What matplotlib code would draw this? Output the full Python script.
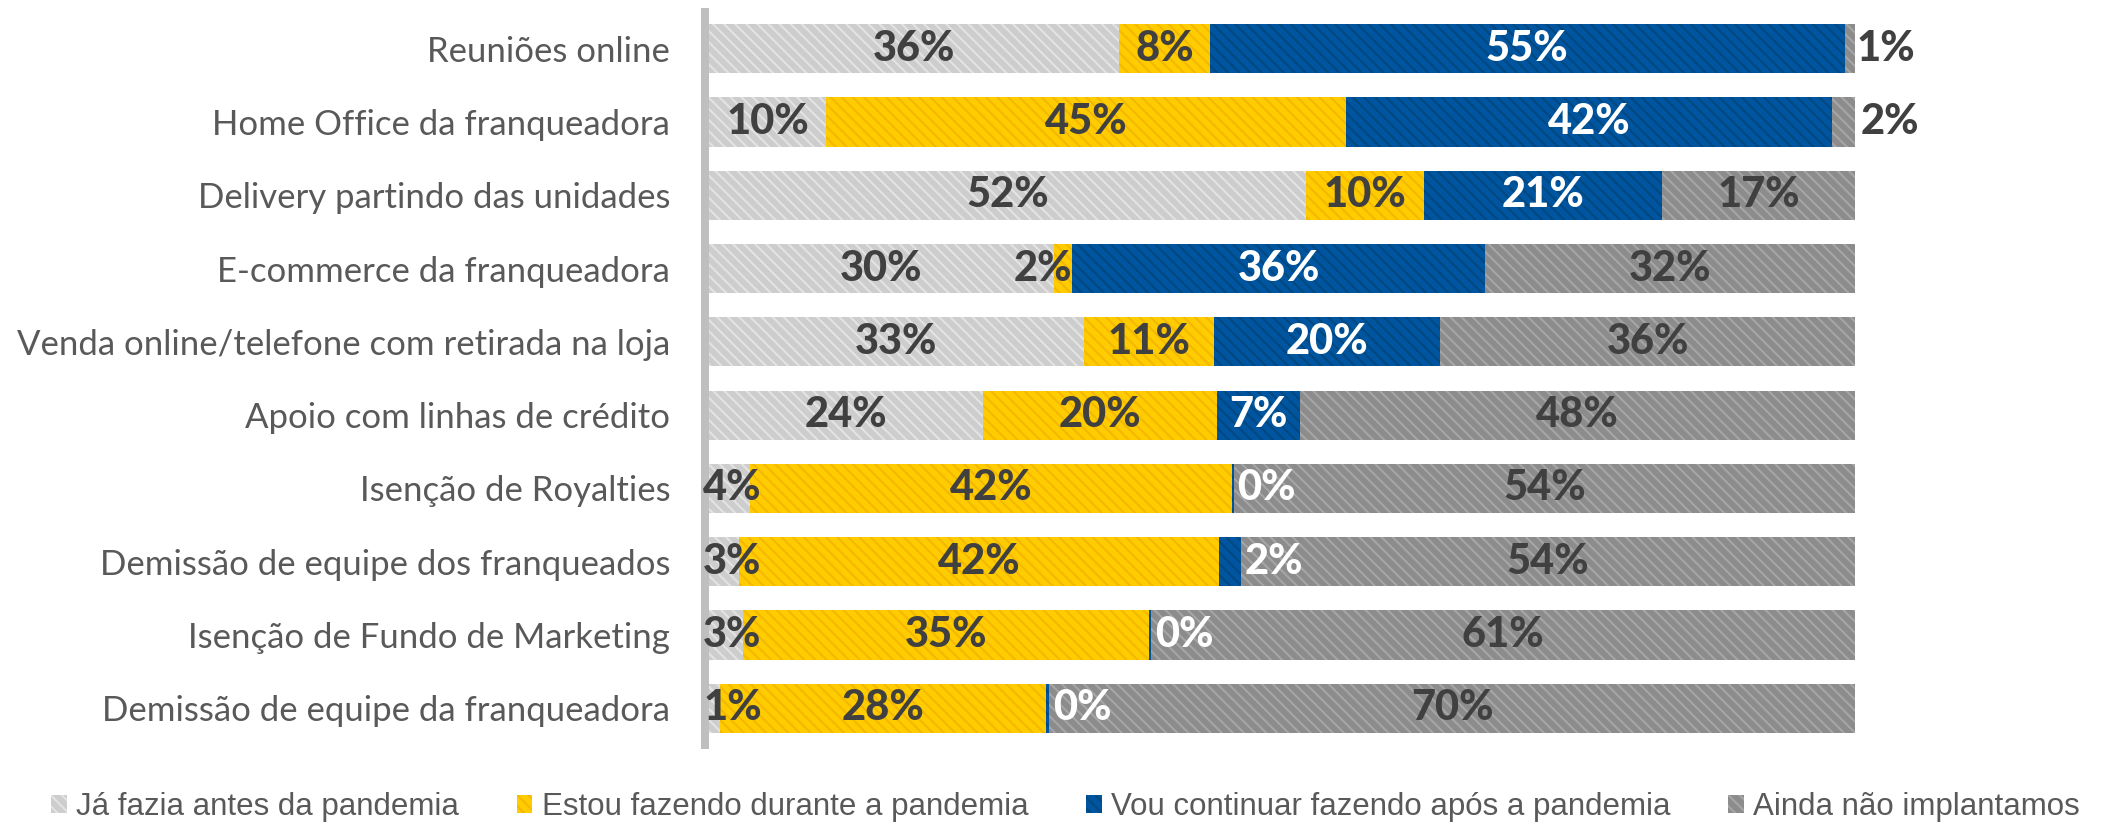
import matplotlib
matplotlib.use("Agg")
import matplotlib.pyplot as plt

# Categories top to bottom, values in percent (unrounded estimates)
categories = [
    "Reuniões online",
    "Home Office da franqueadora",
    "Delivery partindo das unidades",
    "E-commerce da franqueadora",
    "Venda online/telefone com retirada na loja",
    "Apoio com linhas de crédito",
    "Isenção de Royalties",
    "Demissão de equipe dos franqueados",
    "Isenção de Fundo de Marketing",
    "Demissão de equipe da franqueadora",
]
series_names = [
    "Já fazia antes da pandemia",
    "Estou fazendo durante a pandemia",
    "Vou continuar fazendo após a pandemia",
    "Ainda não implantamos",
]
ja_fazia = [35.8, 10.2, 52.1, 30.1, 32.7, 23.9, 3.6, 2.6, 3.0, 1.0]
fazendo = [7.9, 45.4, 10.3, 1.6, 11.4, 20.4, 42.0, 41.9, 35.4, 28.4]
continuar = [55.4, 42.4, 20.8, 36.0, 19.7, 7.3, 0.2, 1.9, 0.2, 0.3]
ainda_nao = [0.9, 2.0, 16.8, 32.3, 36.2, 48.4, 54.2, 53.6, 61.4, 70.3]

series = [ja_fazia, fazendo, continuar, ainda_nao]
face_colors = ["#cdcdcd", "#ffcc00", "#0055a0", "#8c8c8c"]
hatch_colors = ["#e3e3e3", "#f4b800", "#00487f", "#a6a6a6"]
label_colors = ["#404040", "#404040", "white", "#404040"]

plt.rcParams["hatch.linewidth"] = 1.5

fig = plt.figure(figsize=(21.1, 8.22), dpi=100)
ax = fig.add_axes([709 / 2110, 0.0937, 1146 / 2110, 0.8917])

y = list(range(len(categories)))
left = [0.0] * len(categories)
bars = []
for vals, fc, hc in zip(series, face_colors, hatch_colors):
    b = ax.barh(y, vals, left=left, height=0.67, color=fc, edgecolor=hc,
                hatch="\\\\\\", linewidth=0)
    bars.append(b)
    left = [l + v for l, v in zip(left, vals)]

# value labels
lab_font = dict(family=["Lato", "DejaVu Sans"], fontweight="black", fontsize=30)
start = [0.0] * len(categories)
for s, vals in enumerate(series):
    for i, v in enumerate(vals):
        txt = f"{round(v):.0f}%"
        col = label_colors[s]
        if v >= 5:
            x, ha = start[i] + v / 2, "center"
        elif s == 0:
            x, ha = -0.5, "left"
        elif s == 1:
            x, ha = start[i] + v, "right"
        elif s == 2:
            x, ha = start[i] + v + 0.3, "left"
        else:
            x, ha = start[i] + v + 0.1 + 0.4 * i, "left"
            col = "#404040"
        ax.text(x, i, txt, ha=ha, va="center", color=col, **lab_font)
        start[i] += v

ax.set_xlim(0, 100)
ax.set_ylim(len(categories) - 0.5, -0.5)
ax.set_yticks(y, categories)
ax.tick_params(axis="y", length=0, pad=25, labelsize=25,
               labelcolor="#595959", labelfontfamily="Lato")
ax.xaxis.set_visible(False)
for side in ["top", "right", "bottom"]:
    ax.spines[side].set_visible(False)
ax.spines["left"].set_position(("outward", 2.88))
ax.spines["left"].set_linewidth(5.76)
ax.spines["left"].set_color("#bfbfbf")

fig.legend([b[0] for b in bars], series_names, ncol=4, loc="center",
           bbox_to_anchor=(0.505, 0.018), frameon=False,
           prop=dict(family="Liberation Sans", size=22.5),
           labelcolor="#595959", handlelength=0.5, handleheight=0.5,
           handletextpad=0.3, columnspacing=1.85, borderpad=0)

fig.savefig("out.png", dpi=100)
